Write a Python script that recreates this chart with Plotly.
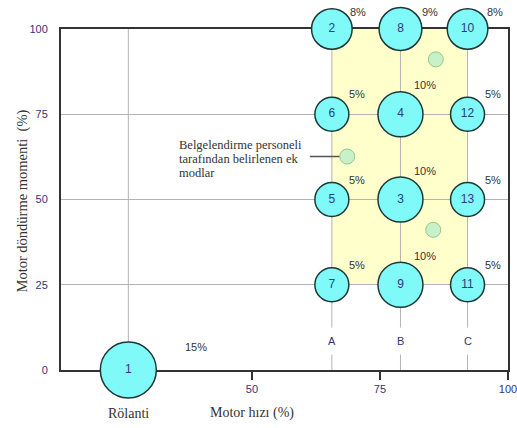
import plotly.graph_objects as go

# Test modes: engine speed level, torque (%) and weighting factor (%)
mode_no = [1, 2, 8, 10, 6, 4, 12, 5, 3, 13, 7, 9, 11]
mode_speed = ["Rölanti", "A", "B", "C", "A", "B", "C", "A", "B", "C", "A", "B", "C"]
mode_torque = [0, 100, 100, 100, 75, 75, 75, 50, 50, 50, 25, 25, 25]
mode_weight = [15, 8, 9, 8, 5, 10, 5, 5, 10, 5, 5, 10, 5]

# Engine speed (%) of each named speed level
speed_names = ["Rölanti", "A", "B", "C"]
speed_values = [25.85, 65.6, 79.0, 92.1]

# Extra modes chosen by the certification staff
extra_speed = [85.9, 68.6, 85.4]
extra_torque = [91.1, 62.6, 41.1]

x_ticks = [50, 75, 100]
y_ticks = [0, 25, 50, 75, 100]

speed_of = dict(zip(speed_names, speed_values))
mx = [speed_of[s] for s in mode_speed]

SERIF = "Liberation Serif, Times New Roman, serif"
SANS = "Liberation Sans, Arial, sans-serif"
NAVY = "#33337a"
GRID = "#b4b4b4"


def marker_size(w):
    return 23 + 2.2 * w


fig = go.Figure()

# Extra (certification) modes
fig.add_trace(go.Scatter(
    x=extra_speed, y=extra_torque, mode="markers", cliponaxis=False,
    marker=dict(size=15, color="#c9f1c9", opacity=1,
                line=dict(color="#8fc98f", width=1)),
    hoverinfo="skip", showlegend=False,
))

# Weighted test modes
fig.add_trace(go.Scatter(
    x=mx, y=mode_torque, mode="markers+text", cliponaxis=False,
    text=[str(n) for n in mode_no], textposition="middle center",
    textfont=dict(family=SANS, size=12, color="#2a3c80"),
    marker=dict(size=[marker_size(w) for w in mode_weight], color="#80f9f9", opacity=1,
                line=dict(color="#1e3838", width=1.5)),
    hoverinfo="skip", showlegend=False,
))

shapes = []
# Shaded operating zone between speeds A and C, 25-100 % torque
shapes.append(dict(type="rect", layer="below", xref="x", yref="y",
                   x0=speed_of["A"], x1=speed_of["C"], y0=25, y1=100,
                   fillcolor="#ffffcc", line=dict(width=0)))
# Vertical reference lines at each speed level
for v in speed_values:
    shapes.append(dict(type="line", layer="below", xref="x", yref="y",
                       x0=v, x1=v, y0=0, y1=100,
                       line=dict(color=GRID, width=1)))
# Leader line for the extra-mode note
shapes.append(dict(type="line", layer="below", xref="x", yref="y",
                   x0=61.3, x1=extra_speed[1], y0=extra_torque[1], y1=extra_torque[1],
                   line=dict(color="#555555", width=1.5)))

annotations = []
# Weighting factor labels
offsets = {1: (68, 23), 2: (26, 17), 8: (30, 17), 10: (27, 17)}
for n, x, y, w in zip(mode_no, mx, mode_torque, mode_weight):
    if n in offsets:
        dx, dy = offsets[n]
    elif w >= 10:
        dx, dy = (25, 29)
    else:
        dx, dy = (25, 20)
    annotations.append(dict(x=x, y=y, xref="x", yref="y", text=f"{w}%",
                            showarrow=False, xshift=dx, yshift=dy,
                            font=dict(family=SANS, size=11, color="#333333")))

# Speed level letters
for name in ["A", "B", "C"]:
    annotations.append(dict(x=speed_of[name], y=8.5, xref="x", yref="y", text=name,
                            showarrow=False, bgcolor="white", borderpad=7,
                            font=dict(family=SANS, size=11, color=NAVY)))

# Note text
note_lines = ["Belgelendirme personeli", "tarafından belirlenen ek", "modlar"]
for i, line in enumerate(note_lines):
    annotations.append(dict(x=35.4, y=66.0 - 4.1 * i, xref="x", yref="y", text=line,
                            showarrow=False, xanchor="left", yanchor="middle",
                            font=dict(family=SERIF, size=12.5, color="#333333")))

# Axis titles and idle label
annotations.append(dict(x=50, y=0, xref="x", yref="paper", yshift=-43, text="Motor hızı (%)",
                        showarrow=False, yanchor="middle",
                        font=dict(family=SERIF, size=14, color="#333333")))
annotations.append(dict(x=speed_of["Rölanti"], y=0, xref="x", yref="paper", yshift=-43,
                        text="Rölanti", showarrow=False, yanchor="middle",
                        font=dict(family=SERIF, size=14, color="#333333")))
annotations.append(dict(x=0, y=0.5, xref="paper", yref="paper", xshift=-39, yshift=-2,
                        text="Motor döndürme momenti  (%)", textangle=-90,
                        showarrow=False, xanchor="center", yanchor="middle",
                        font=dict(family=SERIF, size=14.5, color="#333333")))

fig.update_layout(
    width=517, height=428,
    margin=dict(l=61, r=9, t=29, b=58),
    paper_bgcolor="white", plot_bgcolor="white",
    shapes=shapes, annotations=annotations,
    xaxis=dict(range=[12.7, 100], tickvals=x_ticks, showgrid=False, zeroline=False,
               showline=True, linecolor="#333333", linewidth=2, mirror=True,
               ticks="outside", ticklen=8, tickwidth=2, tickcolor="#333333",
               tickfont=dict(family=SANS, size=11, color=NAVY), layer="below traces",
               automargin=False, ticklabeloverflow="allow"),
    yaxis=dict(range=[0, 100], tickvals=y_ticks, showgrid=True, gridcolor=GRID, gridwidth=1,
               zeroline=False, showline=True, linecolor="#333333", linewidth=2, mirror=True,
               ticks="outside", ticklen=9, tickcolor="rgba(0,0,0,0)",
               tickfont=dict(family=SANS, size=11, color=NAVY), layer="below traces",
               automargin=False),
)

fig.write_html("out.html")
